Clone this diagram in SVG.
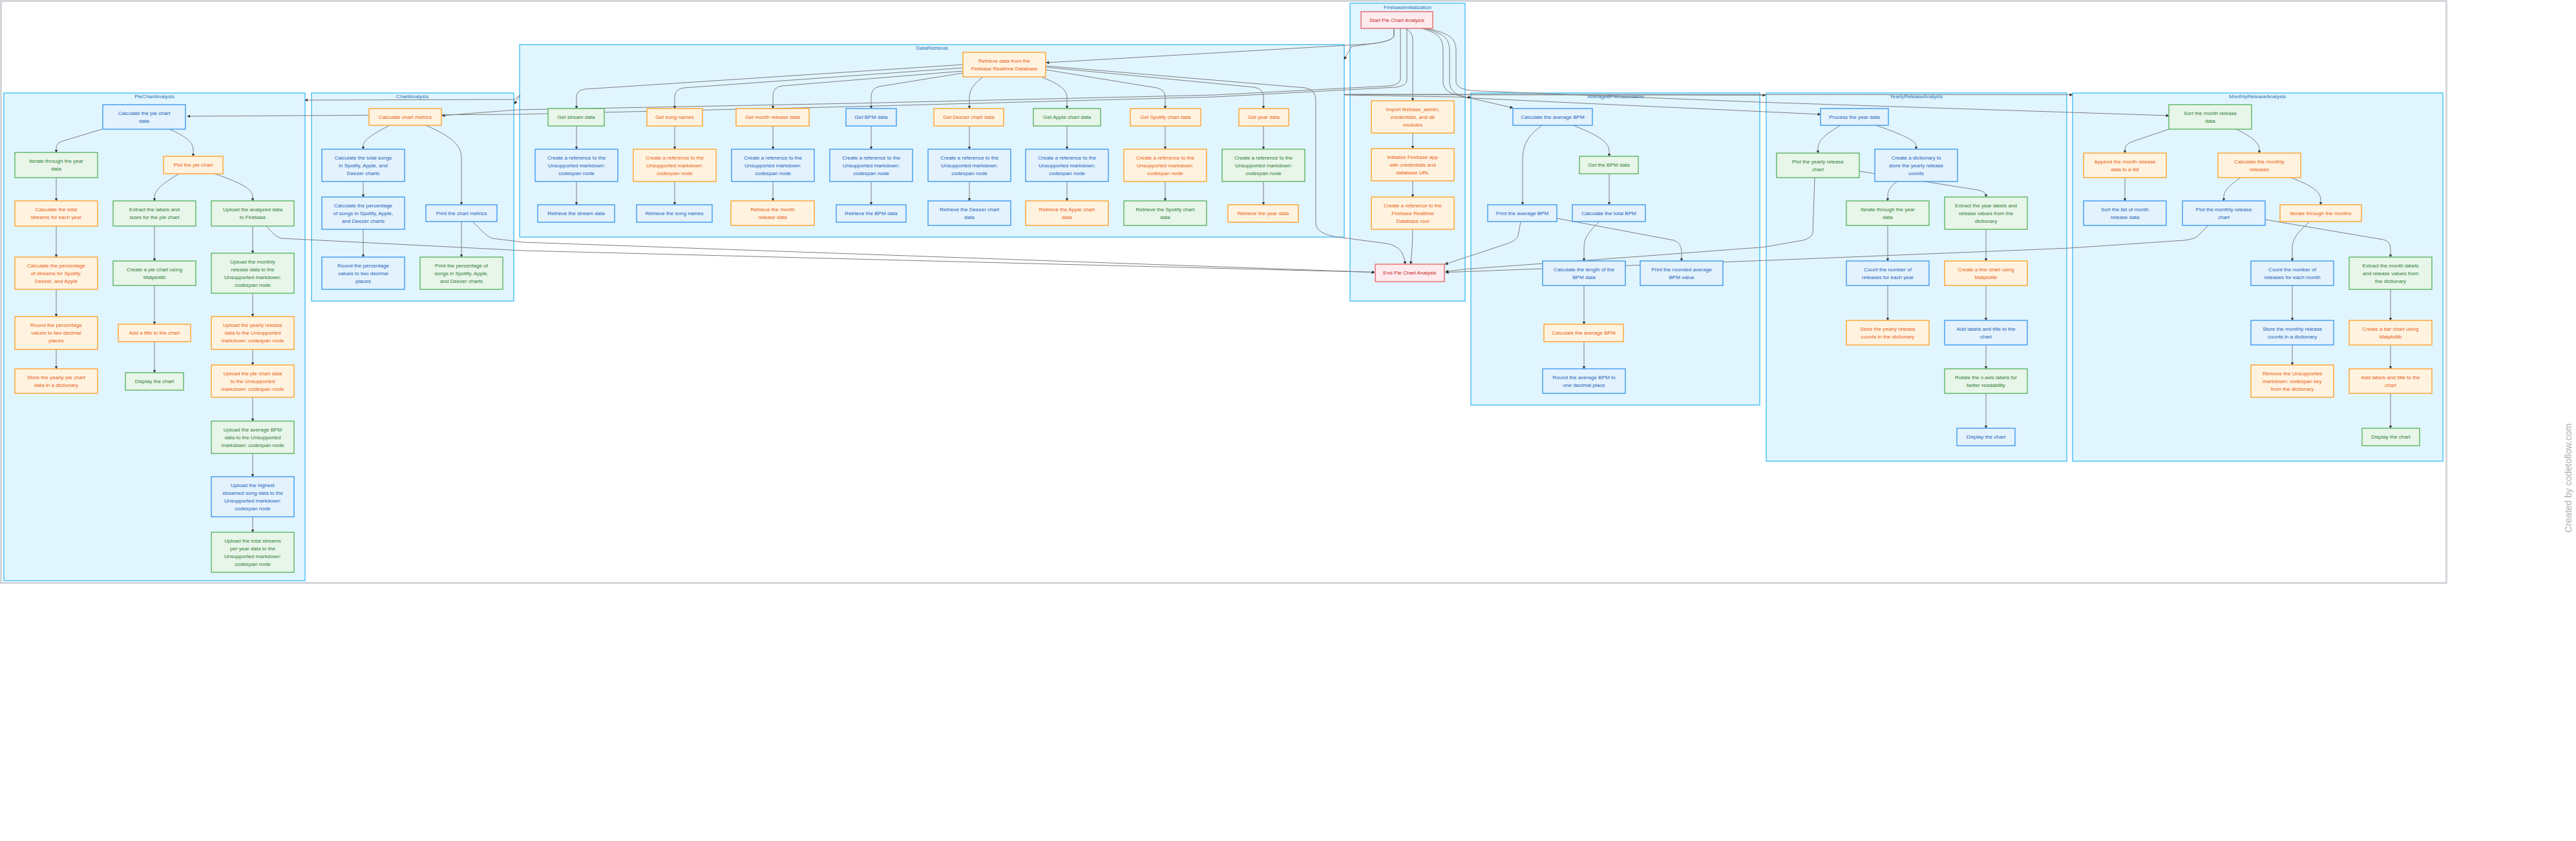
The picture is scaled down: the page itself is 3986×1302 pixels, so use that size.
<svg xmlns="http://www.w3.org/2000/svg" width="3986" height="1302" viewBox="0 0 3986 1302">
<defs>
<style>
text{font-family:"Liberation Sans",Arial,sans-serif;font-size:8.1px;text-anchor:middle}
.cl rect{fill:#E1F5FE;stroke:#4FC3F7;stroke-width:1.5}
.cl text{fill:#1F6FB5}
.n rect{stroke-width:1.4}
.b rect{fill:#E3F2FD;stroke:#3C9BEF}.b text{fill:#1D5FB8}
.o rect{fill:#FFF3E0;stroke:#FFA22E}.o text{fill:#EA5C10}
.g rect{fill:#E8F5E9;stroke:#5DB562}.g text{fill:#2E7D32}
.r rect{fill:#FFEBEE;stroke:#E86A6A}.r text{fill:#C62828}
#edges path{fill:none;stroke:#7d7d7d;stroke-width:1;marker-end:url(#ah)}
</style>
<marker id="ah" viewBox="0 0 10 10" refX="9" refY="5" markerWidth="5" markerHeight="5" markerUnits="userSpaceOnUse" orient="auto"><path d="M0,0 L10,5 L0,10 z" fill="#333"/></marker>
</defs>
<rect x="0" y="0" width="3986" height="1302" fill="#fff"/>
<rect x="1.5" y="1.5" width="3784" height="901" fill="#fff" stroke="#d3d6da" stroke-width="3"/>

<g id="clusters">
<g id="PieChartAnalysis" class="cl"><rect x="6" y="144" width="466" height="755"/><text x="239" y="151.8">PieChartAnalysis</text></g>
<g id="ChartAnalysis" class="cl"><rect x="482" y="144" width="313" height="322"/><text x="638" y="151.8">ChartAnalysis</text></g>
<g id="DataRetrieval" class="cl"><rect x="804" y="69" width="1276" height="298"/><text x="1442" y="76.8">DataRetrieval</text></g>
<g id="FirebaseInitialization" class="cl"><rect x="2089" y="5" width="178" height="461"/><text x="2178" y="13.8">FirebaseInitialization</text></g>
<g id="AverageBPMCalculation" class="cl"><rect x="2276" y="144" width="447" height="483"/><text x="2500" y="151.8">AverageBPMCalculation</text></g>
<g id="YearlyReleaseAnalysis" class="cl"><rect x="2733" y="144" width="465" height="570"/><text x="2965" y="151.8">YearlyReleaseAnalysis</text></g>
<g id="MonthlyReleaseAnalysis" class="cl"><rect x="3207" y="144" width="573" height="570"/><text x="3493" y="151.8">MonthlyReleaseAnalysis</text></g>
</g>

<g id="edges">
<!-- pie -->
<path d="M158,200 L95,219 Q87,222 87,230 L87,236"/>
<path d="M262,200 C286,210 299,220 299,232 L299,242"/>
<path d="M87,275 L87,311"/><path d="M87,350 L87,398"/><path d="M87,448 L87,490"/><path d="M87,541 L87,571"/>
<path d="M277,269 C250,285 239,295 239,305 L239,311"/>
<path d="M332,269 C380,285 391,295 391,305 L391,311"/>
<path d="M239,350 L239,404"/><path d="M239,442 L239,502"/><path d="M239,529 L239,577"/>
<path d="M391,350 L391,392"/><path d="M391,454 L391,490"/><path d="M391,541 L391,565"/><path d="M391,615 L391,652"/><path d="M391,702 L391,738"/><path d="M391,800 L391,824"/>
<path d="M412,350 C422,360 426,367 436,369 L810,388 L2127,421.5"/>
<!-- chart -->
<path d="M603,194 C575,208 562,218 562,225 L562,231"/>
<path d="M659,194 C700,212 714,225 714,245 L714,317"/>
<path d="M562,281 L562,305"/><path d="M562,355 L562,398"/><path d="M714,343 L714,398"/>
<path d="M731,343 C745,356 752,366 762,369 L810,375 L2127,421.5"/>
<!-- start -->
<path d="M2157,44 L2157,55 Q2156,64 2120,68 L1619,97"/>
<path d="M2157,44 L2157,55 Q2156,64 2120,68 L2091,72 L2080,92"/>
<path d="M2167,44 L2167,122 Q2167,131 2150,133 L1880,147 L1320,160 L800,170 L684,179"/>
<path d="M2177,44 L2177,124 Q2177,133 2160,135 L1880,150 L1320,165 L800,177 L290,180"/>
<path d="M2175,44 Q2186,50 2186,60 L2186,156"/>
<path d="M2200,44 C2228,52 2233,60 2233,80 L2233,128 Q2234,141 2250,146 L2341,167"/>
<path d="M2203,44 C2238,52 2243,62 2243,80 L2243,130 Q2245,146 2270,151.5 L2817,177"/>
<path d="M2207,44 C2248,52 2253,62 2253,80 L2253,128 Q2256,139 2280,140.5 L2730,158.4 L3356,179"/>
<!-- cluster to cluster -->
<path d="M2080,147 L2276,150.5"/>
<path d="M2080,146.5 L2732,147.3"/>
<path d="M2080,146 L3207,146.7"/>
<path d="M805,147 L796,161"/>
<path d="M805,147 L796,154 L472,155"/>
<!-- data retrieval -->
<path d="M1490,100 L905,138 Q892,140 892,150 L892,168"/>
<path d="M1490,105 L1058,136 Q1044,138 1044,150 L1044,168"/>
<path d="M1490,110 L1210,133 Q1196,135 1196,148 L1196,168"/>
<path d="M1490,113 L1360,134 Q1348,137 1348,150 L1348,168"/>
<path d="M1520,120 Q1500,134 1500,150 L1500,168"/>
<path d="M1613,120 Q1651,134 1651,150 L1651,168"/>
<path d="M1618,108 L1790,136 Q1803,139 1803,150 L1803,168"/>
<path d="M1618,104 L1940,135 Q1955,137 1955,150 L1955,168"/>
<path d="M1618,102 L2020,136 Q2036,139 2036,155 L2036,345 Q2036,362 2070,367 L2146,377 Q2173,382 2174,409"/>
<path d="M892,195 L892,231"/><path d="M892,281 L892,317"/>
<path d="M1044,195 L1044,231"/><path d="M1044,281 L1044,317"/>
<path d="M1196,195 L1196,231"/><path d="M1196,281 L1196,311"/>
<path d="M1348,195 L1348,231"/><path d="M1348,281 L1348,317"/>
<path d="M1500,195 L1500,231"/><path d="M1500,281 L1500,311"/>
<path d="M1651,195 L1651,231"/><path d="M1651,281 L1651,311"/>
<path d="M1803,195 L1803,231"/><path d="M1803,281 L1803,311"/>
<path d="M1955,195 L1955,231"/><path d="M1955,281 L1955,317"/>
<!-- firebase -->
<path d="M2186,206 L2186,230"/><path d="M2186,280 L2186,305"/>
<path d="M2186,355 Q2186,380 2183,409"/>
<!-- avg bpm -->
<path d="M2386,194 C2362,212 2356,225 2356,250 L2356,317"/>
<path d="M2434,194 C2480,212 2490,222 2490,235 L2490,242"/>
<path d="M2490,269 L2490,317"/>
<path d="M2475,343 C2455,362 2451,370 2451,385 L2451,404"/>
<path d="M2409,338 L2590,372 Q2602,376 2602,390 L2602,404"/>
<path d="M2451,442 L2451,502"/><path d="M2451,529 L2451,571"/>
<path d="M2353,343 L2349,365 Q2346,373 2330,378 L2236,409"/>
<!-- yearly -->
<path d="M2848,194 C2820,210 2813,220 2813,230 L2813,237"/>
<path d="M2903,194 C2955,212 2965,220 2965,226 L2965,231"/>
<path d="M2936,281 C2922,290 2921,298 2921,305 L2921,311"/>
<path d="M2877,265 L3060,294 Q3073,297 3073,302 L3073,305"/>
<path d="M2921,349 L2921,404"/><path d="M2921,442 L2921,496"/>
<path d="M3073,355 L3073,404"/><path d="M3073,442 L3073,496"/><path d="M3073,534 L3073,571"/><path d="M3073,609 L3073,663"/>
<path d="M2808,275 L2805,360 Q2804,368 2790,372 L2730,382.5 L2456,403 L2270,416.5 L2237,420.5"/>
<!-- monthly -->
<path d="M3356,200 L3300,219 Q3288,223 3288,232 L3288,237"/>
<path d="M3460,200 C3490,214 3496,224 3496,232 L3496,237"/>
<path d="M3288,275 L3288,311"/>
<path d="M3467,275 C3445,290 3441,298 3441,305 L3441,311"/>
<path d="M3545,275 C3585,290 3591,300 3591,310 L3591,317"/>
<path d="M3574,343 C3552,362 3547,372 3547,385 L3547,404"/>
<path d="M3505,340 L3688,371 Q3699,374 3699,385 L3699,398"/>
<path d="M3547,442 L3547,496"/><path d="M3547,534 L3547,565"/>
<path d="M3699,448 L3699,496"/><path d="M3699,534 L3699,571"/><path d="M3699,609 L3699,663"/>
<path d="M3417,349 L3400,366 Q3395,370 3380,372 L3200,384.2 L2730,403.3 L2386,416 L2237,421.7"/>
</g>

<g id="nodes">
<!-- PieChartAnalysis -->
<g id="P1" class="n b"><rect x="159" y="162" width="128" height="38"/><text><tspan x="223" y="177.8">Calculate the pie chart</tspan><tspan x="223" y="189.8">data</tspan></text></g>
<g id="P2" class="n g"><rect x="23" y="236" width="128" height="39"/><text><tspan x="87" y="252.3">Iterate through the year</tspan><tspan x="87" y="264.3">data</tspan></text></g>
<g id="P3" class="n o"><rect x="253" y="242" width="92" height="27"/><text x="299" y="258.3">Plot the pie chart</text></g>
<g id="P4" class="n o"><rect x="23" y="311" width="128" height="39"/><text><tspan x="87" y="327.3">Calculate the total</tspan><tspan x="87" y="339.3">streams for each year</tspan></text></g>
<g id="P5" class="n g"><rect x="175" y="311" width="128" height="39"/><text><tspan x="239" y="327.3">Extract the labels and</tspan><tspan x="239" y="339.3">sizes for the pie chart</tspan></text></g>
<g id="P6" class="n g"><rect x="327" y="311" width="128" height="39"/><text><tspan x="391" y="327.3">Upload the analyzed data</tspan><tspan x="391" y="339.3">to Firebase</tspan></text></g>
<g id="P7" class="n o"><rect x="23" y="398" width="128" height="50"/><text><tspan x="87" y="413.8">Calculate the percentage</tspan><tspan x="87" y="425.8">of streams for Spotify,</tspan><tspan x="87" y="437.8">Deezer, and Apple</tspan></text></g>
<g id="P8" class="n g"><rect x="175" y="404" width="128" height="38"/><text><tspan x="239" y="419.8">Create a pie chart using</tspan><tspan x="239" y="431.8">Matplotlib</tspan></text></g>
<g id="P9" class="n g"><rect x="327" y="392" width="128" height="62"/><text><tspan x="391" y="407.8">Upload the monthly</tspan><tspan x="391" y="419.8">release data to the</tspan><tspan x="391" y="431.8">Unsupported markdown:</tspan><tspan x="391" y="443.8">codespan node</tspan></text></g>
<g id="P10" class="n o"><rect x="23" y="490" width="128" height="51"/><text><tspan x="87" y="506.3">Round the percentage</tspan><tspan x="87" y="518.3">values to two decimal</tspan><tspan x="87" y="530.3">places</tspan></text></g>
<g id="P11" class="n o"><rect x="183" y="502" width="112" height="27"/><text x="239" y="518.3">Add a title to the chart</text></g>
<g id="P12" class="n o"><rect x="327" y="490" width="128" height="51"/><text><tspan x="391" y="506.3">Upload the yearly release</tspan><tspan x="391" y="518.3">data to the Unsupported</tspan><tspan x="391" y="530.3">markdown: codespan node</tspan></text></g>
<g id="P13" class="n o"><rect x="23" y="571" width="128" height="38"/><text><tspan x="87" y="586.8">Store the yearly pie chart</tspan><tspan x="87" y="598.8">data in a dictionary</tspan></text></g>
<g id="P14" class="n g"><rect x="194" y="577" width="90" height="27"/><text x="239" y="593.3">Display the chart</text></g>
<g id="P15" class="n o"><rect x="327" y="565" width="128" height="50"/><text><tspan x="391" y="580.8">Upload the pie chart data</tspan><tspan x="391" y="592.8">to the Unsupported</tspan><tspan x="391" y="604.8">markdown: codespan node</tspan></text></g>
<g id="P16" class="n g"><rect x="327" y="652" width="128" height="50"/><text><tspan x="391" y="667.8">Upload the average BPM</tspan><tspan x="391" y="679.8">data to the Unsupported</tspan><tspan x="391" y="691.8">markdown: codespan node</tspan></text></g>
<g id="P17" class="n b"><rect x="327" y="738" width="128" height="62"/><text><tspan x="391" y="753.8">Upload the highest</tspan><tspan x="391" y="765.8">streamed song data to the</tspan><tspan x="391" y="777.8">Unsupported markdown:</tspan><tspan x="391" y="789.8">codespan node</tspan></text></g>
<g id="P18" class="n g"><rect x="327" y="824" width="128" height="62"/><text><tspan x="391" y="839.8">Upload the total streams</tspan><tspan x="391" y="851.8">per year data to the</tspan><tspan x="391" y="863.8">Unsupported markdown:</tspan><tspan x="391" y="875.8">codespan node</tspan></text></g>

<!-- ChartAnalysis -->
<g id="C1" class="n o"><rect x="571" y="168" width="112" height="26"/><text x="627" y="183.8">Calculate chart metrics</text></g>
<g id="C2" class="n b"><rect x="498" y="231" width="128" height="50"/><text><tspan x="562" y="246.8">Calculate the total songs</tspan><tspan x="562" y="258.8">in Spotify, Apple, and</tspan><tspan x="562" y="270.8">Deezer charts</tspan></text></g>
<g id="C3" class="n b"><rect x="498" y="305" width="128" height="50"/><text><tspan x="562" y="320.8">Calculate the percentage</tspan><tspan x="562" y="332.8">of songs in Spotify, Apple,</tspan><tspan x="562" y="344.8">and Deezer charts</tspan></text></g>
<g id="C4" class="n b"><rect x="498" y="398" width="128" height="50"/><text><tspan x="562" y="413.8">Round the percentage</tspan><tspan x="562" y="425.8">values to two decimal</tspan><tspan x="562" y="437.8">places</tspan></text></g>
<g id="C5" class="n b"><rect x="659" y="317" width="110" height="26"/><text x="714" y="332.8">Print the chart metrics</text></g>
<g id="C6" class="n g"><rect x="650" y="398" width="128" height="50"/><text><tspan x="714" y="413.8">Print the percentage of</tspan><tspan x="714" y="425.8">songs in Spotify, Apple,</tspan><tspan x="714" y="437.8">and Deezer charts</tspan></text></g>

<!-- DataRetrieval -->
<g id="D0" class="n o"><rect x="1490" y="81" width="128" height="38"/><text><tspan x="1554" y="96.8">Retrieve data from the</tspan><tspan x="1554" y="108.8">Firebase Realtime Database</tspan></text></g>
<g id="D1" class="n g"><rect x="848" y="168" width="87" height="27"/><text x="891.5" y="184.3">Get stream data</text></g>
<g id="D2" class="n o"><rect x="1001" y="168" width="86" height="27"/><text x="1044" y="184.3">Get song names</text></g>
<g id="D3" class="n o"><rect x="1139" y="168" width="113" height="27"/><text x="1195.5" y="184.3">Get month release data</text></g>
<g id="D4" class="n b"><rect x="1309" y="168" width="78" height="27"/><text x="1348" y="184.3">Get BPM data</text></g>
<g id="D5" class="n o"><rect x="1445" y="168" width="108" height="27"/><text x="1499" y="184.3">Get Deezer chart data</text></g>
<g id="D6" class="n g"><rect x="1599" y="168" width="104" height="27"/><text x="1651" y="184.3">Get Apple chart data</text></g>
<g id="D7" class="n o"><rect x="1749" y="168" width="109" height="27"/><text x="1803.5" y="184.3">Get Spotify chart data</text></g>
<g id="D8" class="n o"><rect x="1917" y="168" width="77" height="27"/><text x="1955.5" y="184.3">Get year data</text></g>
<g id="R1" class="n b"><rect x="828" y="231" width="128" height="50"/><text><tspan x="892" y="246.8">Create a reference to the</tspan><tspan x="892" y="258.8">Unsupported markdown:</tspan><tspan x="892" y="270.8">codespan node</tspan></text></g>
<g id="R2" class="n o"><rect x="980" y="231" width="128" height="50"/><text><tspan x="1044" y="246.8">Create a reference to the</tspan><tspan x="1044" y="258.8">Unsupported markdown:</tspan><tspan x="1044" y="270.8">codespan node</tspan></text></g>
<g id="R3" class="n b"><rect x="1132" y="231" width="128" height="50"/><text><tspan x="1196" y="246.8">Create a reference to the</tspan><tspan x="1196" y="258.8">Unsupported markdown:</tspan><tspan x="1196" y="270.8">codespan node</tspan></text></g>
<g id="R4" class="n b"><rect x="1284" y="231" width="128" height="50"/><text><tspan x="1348" y="246.8">Create a reference to the</tspan><tspan x="1348" y="258.8">Unsupported markdown:</tspan><tspan x="1348" y="270.8">codespan node</tspan></text></g>
<g id="R5" class="n b"><rect x="1436" y="231" width="128" height="50"/><text><tspan x="1500" y="246.8">Create a reference to the</tspan><tspan x="1500" y="258.8">Unsupported markdown:</tspan><tspan x="1500" y="270.8">codespan node</tspan></text></g>
<g id="R6" class="n b"><rect x="1587" y="231" width="128" height="50"/><text><tspan x="1651" y="246.8">Create a reference to the</tspan><tspan x="1651" y="258.8">Unsupported markdown:</tspan><tspan x="1651" y="270.8">codespan node</tspan></text></g>
<g id="R7" class="n o"><rect x="1739" y="231" width="128" height="50"/><text><tspan x="1803" y="246.8">Create a reference to the</tspan><tspan x="1803" y="258.8">Unsupported markdown:</tspan><tspan x="1803" y="270.8">codespan node</tspan></text></g>
<g id="R8" class="n g"><rect x="1891" y="231" width="128" height="50"/><text><tspan x="1955" y="246.8">Create a reference to the</tspan><tspan x="1955" y="258.8">Unsupported markdown:</tspan><tspan x="1955" y="270.8">codespan node</tspan></text></g>
<g id="T1" class="n b"><rect x="832" y="317" width="119" height="27"/><text x="891.5" y="333.3">Retrieve the stream data</text></g>
<g id="T2" class="n b"><rect x="985" y="317" width="117" height="27"/><text x="1043.5" y="333.3">Retrieve the song names</text></g>
<g id="T3" class="n o"><rect x="1131" y="311" width="129" height="38"/><text><tspan x="1195.5" y="326.8">Retrieve the month</tspan><tspan x="1195.5" y="338.8">release data</tspan></text></g>
<g id="T4" class="n b"><rect x="1294" y="317" width="108" height="27"/><text x="1348" y="333.3">Retrieve the BPM data</text></g>
<g id="T5" class="n b"><rect x="1436" y="311" width="128" height="38"/><text><tspan x="1500" y="326.8">Retrieve the Deezer chart</tspan><tspan x="1500" y="338.8">data</tspan></text></g>
<g id="T6" class="n o"><rect x="1587" y="311" width="128" height="38"/><text><tspan x="1651" y="326.8">Retrieve the Apple chart</tspan><tspan x="1651" y="338.8">data</tspan></text></g>
<g id="T7" class="n g"><rect x="1739" y="311" width="128" height="38"/><text><tspan x="1803" y="326.8">Retrieve the Spotify chart</tspan><tspan x="1803" y="338.8">data</tspan></text></g>
<g id="T8" class="n o"><rect x="1900" y="317" width="109" height="27"/><text x="1954.5" y="333.3">Retrieve the year data</text></g>

<!-- FirebaseInitialization -->
<g id="F0" class="n r"><rect x="2106" y="18" width="111" height="26"/><text x="2161.5" y="33.8">Start Pie Chart Analysis</text></g>
<g id="F1" class="n o"><rect x="2122" y="156" width="128" height="50"/><text><tspan x="2186" y="171.8">Import firebase_admin,</tspan><tspan x="2186" y="183.8">credentials, and db</tspan><tspan x="2186" y="195.8">modules</tspan></text></g>
<g id="F2" class="n o"><rect x="2122" y="230" width="128" height="50"/><text><tspan x="2186" y="245.8">Initialize Firebase app</tspan><tspan x="2186" y="257.8">with credentials and</tspan><tspan x="2186" y="269.8">database URL</tspan></text></g>
<g id="F3" class="n o"><rect x="2122" y="305" width="128" height="50"/><text><tspan x="2186" y="320.8">Create a reference to the</tspan><tspan x="2186" y="332.8">Firebase Realtime</tspan><tspan x="2186" y="344.8">Database root</tspan></text></g>
<g id="F4" class="n r"><rect x="2128" y="409" width="107" height="27"/><text x="2181.5" y="425.3">End Pie Chart Analysis</text></g>

<!-- AverageBPMCalculation -->
<g id="A1" class="n b"><rect x="2341" y="168" width="123" height="26"/><text x="2402.5" y="183.8">Calculate the average BPM</text></g>
<g id="A2" class="n g"><rect x="2444" y="242" width="91" height="27"/><text x="2489.5" y="258.3">Get the BPM data</text></g>
<g id="A3" class="n b"><rect x="2302" y="317" width="107" height="26"/><text x="2355.5" y="332.8">Print the average BPM</text></g>
<g id="A4" class="n b"><rect x="2433" y="317" width="113" height="26"/><text x="2489.5" y="332.8">Calculate the total BPM</text></g>
<g id="A5" class="n b"><rect x="2387" y="404" width="128" height="38"/><text><tspan x="2451" y="419.8">Calculate the length of the</tspan><tspan x="2451" y="431.8">BPM data</tspan></text></g>
<g id="A6" class="n b"><rect x="2538" y="404" width="128" height="38"/><text><tspan x="2602" y="419.8">Print the rounded average</tspan><tspan x="2602" y="431.8">BPM value</tspan></text></g>
<g id="A7" class="n o"><rect x="2389" y="502" width="123" height="27"/><text x="2450.5" y="518.3">Calculate the average BPM</text></g>
<g id="A8" class="n b"><rect x="2387" y="571" width="128" height="38"/><text><tspan x="2451" y="586.8">Round the average BPM to</tspan><tspan x="2451" y="598.8">one decimal place</tspan></text></g>

<!-- YearlyReleaseAnalysis -->
<g id="Y1" class="n b"><rect x="2817" y="168" width="105" height="26"/><text x="2869.5" y="183.8">Process the year data</text></g>
<g id="Y2" class="n g"><rect x="2749" y="237" width="128" height="38"/><text><tspan x="2813" y="252.8">Plot the yearly release</tspan><tspan x="2813" y="264.8">chart</tspan></text></g>
<g id="Y3" class="n b"><rect x="2901" y="231" width="128" height="50"/><text><tspan x="2965" y="246.8">Create a dictionary to</tspan><tspan x="2965" y="258.8">store the yearly release</tspan><tspan x="2965" y="270.8">counts</tspan></text></g>
<g id="Y4" class="n g"><rect x="2857" y="311" width="128" height="38"/><text><tspan x="2921" y="326.8">Iterate through the year</tspan><tspan x="2921" y="338.8">data</tspan></text></g>
<g id="Y5" class="n g"><rect x="3009" y="305" width="128" height="50"/><text><tspan x="3073" y="320.8">Extract the year labels and</tspan><tspan x="3073" y="332.8">release values from the</tspan><tspan x="3073" y="344.8">dictionary</tspan></text></g>
<g id="Y6" class="n b"><rect x="2857" y="404" width="128" height="38"/><text><tspan x="2921" y="419.8">Count the number of</tspan><tspan x="2921" y="431.8">releases for each year</tspan></text></g>
<g id="Y7" class="n o"><rect x="3009" y="404" width="128" height="38"/><text><tspan x="3073" y="419.8">Create a line chart using</tspan><tspan x="3073" y="431.8">Matplotlib</tspan></text></g>
<g id="Y8" class="n o"><rect x="2857" y="496" width="128" height="38"/><text><tspan x="2921" y="511.8">Store the yearly release</tspan><tspan x="2921" y="523.8">counts in the dictionary</tspan></text></g>
<g id="Y9" class="n b"><rect x="3009" y="496" width="128" height="38"/><text><tspan x="3073" y="511.8">Add labels and title to the</tspan><tspan x="3073" y="523.8">chart</tspan></text></g>
<g id="Y10" class="n g"><rect x="3009" y="571" width="128" height="38"/><text><tspan x="3073" y="586.8">Rotate the x-axis labels for</tspan><tspan x="3073" y="598.8">better readability</tspan></text></g>
<g id="Y11" class="n b"><rect x="3028" y="663" width="90" height="27"/><text x="3073" y="679.3">Display the chart</text></g>

<!-- MonthlyReleaseAnalysis -->
<g id="M1" class="n g"><rect x="3356" y="162" width="128" height="38"/><text><tspan x="3420" y="177.8">Sort the month release</tspan><tspan x="3420" y="189.8">data</tspan></text></g>
<g id="M2" class="n o"><rect x="3224" y="237" width="128" height="38"/><text><tspan x="3288" y="252.8">Append the month release</tspan><tspan x="3288" y="264.8">data to a list</tspan></text></g>
<g id="M3" class="n o"><rect x="3432" y="237" width="128" height="38"/><text><tspan x="3496" y="252.8">Calculate the monthly</tspan><tspan x="3496" y="264.8">releases</tspan></text></g>
<g id="M4" class="n b"><rect x="3224" y="311" width="128" height="38"/><text><tspan x="3288" y="326.8">Sort the list of month</tspan><tspan x="3288" y="338.8">release data</tspan></text></g>
<g id="M5" class="n b"><rect x="3377" y="311" width="128" height="38"/><text><tspan x="3441" y="326.8">Plot the monthly release</tspan><tspan x="3441" y="338.8">chart</tspan></text></g>
<g id="M6" class="n o"><rect x="3528" y="317" width="126" height="26"/><text x="3591" y="332.8">Iterate through the months</text></g>
<g id="M7" class="n b"><rect x="3483" y="404" width="128" height="38"/><text><tspan x="3547" y="419.8">Count the number of</tspan><tspan x="3547" y="431.8">releases for each month</tspan></text></g>
<g id="M8" class="n g"><rect x="3635" y="398" width="128" height="50"/><text><tspan x="3699" y="413.8">Extract the month labels</tspan><tspan x="3699" y="425.8">and release values from</tspan><tspan x="3699" y="437.8">the dictionary</tspan></text></g>
<g id="M9" class="n b"><rect x="3483" y="496" width="128" height="38"/><text><tspan x="3547" y="511.8">Store the monthly release</tspan><tspan x="3547" y="523.8">counts in a dictionary</tspan></text></g>
<g id="M10" class="n o"><rect x="3635" y="496" width="128" height="38"/><text><tspan x="3699" y="511.8">Create a bar chart using</tspan><tspan x="3699" y="523.8">Matplotlib</tspan></text></g>
<g id="M11" class="n o"><rect x="3483" y="565" width="128" height="50"/><text><tspan x="3547" y="580.8">Remove the Unsupported</tspan><tspan x="3547" y="592.8">markdown: codespan key</tspan><tspan x="3547" y="604.8">from the dictionary</tspan></text></g>
<g id="M12" class="n o"><rect x="3635" y="571" width="128" height="38"/><text><tspan x="3699" y="586.8">Add labels and title to the</tspan><tspan x="3699" y="598.8">chart</tspan></text></g>
<g id="M13" class="n g"><rect x="3655" y="663" width="89" height="27"/><text x="3699.5" y="679.3">Display the chart</text></g>
</g>

<text x="3979" y="740" transform="rotate(-90 3979 740)" style="font-size:14px;fill:#b0b0b0">Created by codetoflow.com</text>
</svg>
